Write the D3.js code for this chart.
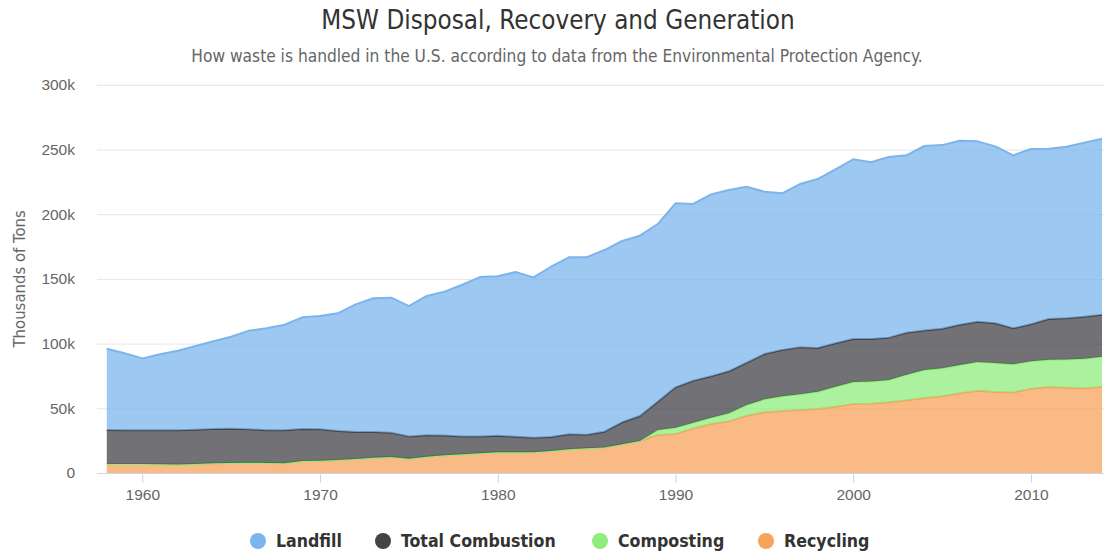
<!DOCTYPE html>
<html>
<head>
<meta charset="utf-8">
<script src="https://cdn.jsdelivr.net/npm/d3@7"></script>
<style>
  body { margin: 0; background: #fff; }
  svg { font-family: "DejaVu Sans Condensed", "DejaVu Sans", sans-serif; }
</style>
</head>
<body>
<svg id="chart" width="1104" height="552"></svg>
<script>
// years on the x axis
var years = d3.range(1958, 2015);

// values in thousands of tons (k = 1000 of those)
var landfill = [62.8, 59.4, 55.6, 58.7, 61.5, 64.6, 67.8, 71.1, 76.2, 78.8,
    81.6, 86.3, 87.5, 90.9, 98.6, 103.3, 104.3, 100.7, 107.7, 111.1,
    117.2, 123.1, 123.3, 127.2, 123.9, 131.6, 136.8, 137.1, 140.4, 140.1,
    139.4, 137.3, 142.2, 136.6, 140.6, 140.1, 136.0, 125.5, 121.1, 126.2,
    130.6, 134.5, 138.9, 136.6, 139.6, 137.1, 142.5, 141.9, 142.2, 139.4,
    136.7, 133.7, 135.5, 131.6, 132.6, 134.4, 136.0];
var combustion = [26.2, 26.1, 26.0, 26.2, 26.4, 26.5, 26.5, 26.5, 25.9, 25.3,
    25.5, 24.7, 24.3, 22.5, 20.9, 19.9, 18.9, 17.2, 16.5, 15.3,
    13.9, 13.1, 12.7, 12.1, 11.3, 10.8, 11.6, 10.5, 12.1, 17.0,
    19.3, 21.9, 31.2, 32.4, 32.0, 32.5, 32.7, 35.0, 35.7, 36.3,
    33.8, 33.5, 33.2, 32.7, 32.7, 32.4, 30.6, 30.6, 31.2, 31.1,
    30.7, 27.8, 28.6, 31.4, 31.7, 32.5, 32.4];
var composting = [0, 0, 0, 0, 0, 0, 0, 0, 0, 0,
    0, 0, 0, 0, 0, 0, 0, 0, 0, 0,
    0, 0, 0, 0, 0, 0, 0, 0, 0, 0,
    0, 3.8, 4.9, 4.4, 4.8, 6.2, 8.2, 10.0, 11.4, 12.1,
    13.3, 15.5, 17.0, 17.2, 17.3, 19.8, 21.6, 21.6, 21.8, 22.2,
    22.4, 21.7, 21.2, 21.1, 21.9, 22.9, 23.4];
var recycling = [7.0, 7.0, 7.0, 6.8, 6.6, 7.0, 7.5, 7.7, 7.9, 7.7,
    7.5, 9.3, 9.5, 10.0, 10.8, 11.8, 12.3, 11.1, 12.6, 13.7,
    14.4, 15.2, 16.0, 16.0, 16.0, 17.0, 18.3, 19.1, 19.8, 22.2,
    24.7, 29.4, 30.1, 34.5, 37.9, 39.9, 44.3, 46.9, 47.9, 48.7,
    49.5, 51.2, 53.3, 53.6, 54.6, 56.2, 58.0, 59.3, 61.6, 63.6,
    62.6, 62.3, 65.1, 66.5, 65.9, 65.4, 66.5];

var seriesNames = ['Landfill', 'Total Combustion', 'Composting', 'Recycling'];
var seriesColors = ['#7cb5ec', '#434348', '#90ed7d', '#f7a35c'];
var yTicks = [0, 50, 100, 150, 200, 250, 300];
var xTicks = [1960, 1970, 1980, 1990, 2000, 2010];

// build rows for d3.stack
var rows = years.map(function(y, i) {
    return {
        year: y,
        'Landfill': landfill[i],
        'Total Combustion': combustion[i],
        'Composting': composting[i],
        'Recycling': recycling[i]
    };
});

var svg = d3.select('#chart');
var plot = {l: 97, r: 1104, t: 84.8, b: 473};

var xScale = d3.scaleLinear().domain([1958, 2014]).range([106.8, 1102]);
var yScale = d3.scaleLinear().domain([0, 300]).range([plot.b, plot.t]);
var color = d3.scaleOrdinal().domain(seriesNames).range(seriesColors);

// title + subtitle
svg.append('text')
    .attr('x', 558).attr('y', 29)
    .attr('text-anchor', 'middle')
    .style('font-size', '25.8px').style('fill', '#333')
    .text('MSW Disposal, Recovery and Generation');
svg.append('text')
    .attr('x', 557).attr('y', 62)
    .attr('text-anchor', 'middle')
    .style('font-size', '17.2px').style('fill', '#666')
    .text('How waste is handled in the U.S. according to data from the Environmental Protection Agency.');

// gridlines
svg.append('g').selectAll('line')
    .data(yTicks.filter(function(d) { return d > 0; }))
    .enter().append('line')
    .attr('x1', plot.l).attr('x2', plot.r)
    .attr('y1', function(d) { return yScale(d) + 0.5; })
    .attr('y2', function(d) { return yScale(d) + 0.5; })
    .attr('stroke', '#e6e6e6');

// y axis labels
var yAxis = d3.axisLeft(yScale).tickValues(yTicks)
    .tickFormat(function(d) { return d === 0 ? '0' : d + 'k'; })
    .tickSize(0).tickPadding(0);
var yG = svg.append('g').attr('transform', 'translate(75,0)').call(yAxis);
yG.select('.domain').remove();
yG.selectAll('text').style('font-size', '15.5px').style('fill', '#666')
    .style('font-family', 'inherit');

svg.append('text')
    .attr('transform', 'translate(25,' + ((plot.t + plot.b) / 2) + ') rotate(-90)')
    .attr('text-anchor', 'middle')
    .style('font-size', '16.6px').style('fill', '#666')
    .text('Thousands of Tons');

// stacked areas, recycling at the bottom
var stack = d3.stack().keys(seriesNames.slice().reverse());
var layers = stack(rows);

var area = d3.area()
    .x(function(d) { return xScale(d.data.year); })
    .y0(function(d) { return yScale(d[0]); })
    .y1(function(d) { return yScale(d[1]); });
var topLine = d3.line()
    .x(function(d) { return xScale(d.data.year); })
    .y(function(d) { return yScale(d[1]); });

var layerG = svg.append('g').selectAll('g')
    .data(layers).enter().append('g');
layerG.append('path')
    .attr('d', area)
    .attr('fill', function(d) { return color(d.key); })
    .attr('fill-opacity', 0.75);
layerG.append('path')
    .attr('d', topLine)
    .attr('fill', 'none')
    .attr('stroke', function(d) { return color(d.key); })
    .attr('stroke-width', 2)
    .attr('stroke-linejoin', 'round');

// x axis
var xAxis = d3.axisBottom(xScale).tickValues(xTicks)
    .tickFormat(d3.format('d')).tickSize(10).tickPadding(6);
var xG = svg.append('g').attr('transform', 'translate(0,' + plot.b + ')').call(xAxis);
xG.select('.domain').attr('d', 'M' + plot.l + ',0.5H' + plot.r).attr('stroke', '#ccd6eb');
xG.selectAll('.tick line').attr('stroke', '#ccd6eb');
xG.selectAll('text').style('font-size', '15.5px').style('fill', '#666')
    .style('font-family', 'inherit');

// legend
var legendX = [258, 383, 600, 766];
var legend = svg.append('g').selectAll('g')
    .data(seriesNames).enter().append('g')
    .attr('transform', function(d, i) { return 'translate(' + legendX[i] + ',541)'; });
legend.append('circle')
    .attr('r', 8)
    .attr('fill', function(d) { return color(d); });
legend.append('text')
    .attr('x', 18).attr('y', 6)
    .style('font-size', '17.6px').style('font-weight', 'bold').style('fill', '#333')
    .text(function(d) { return d; });
</script>
</body>
</html>
